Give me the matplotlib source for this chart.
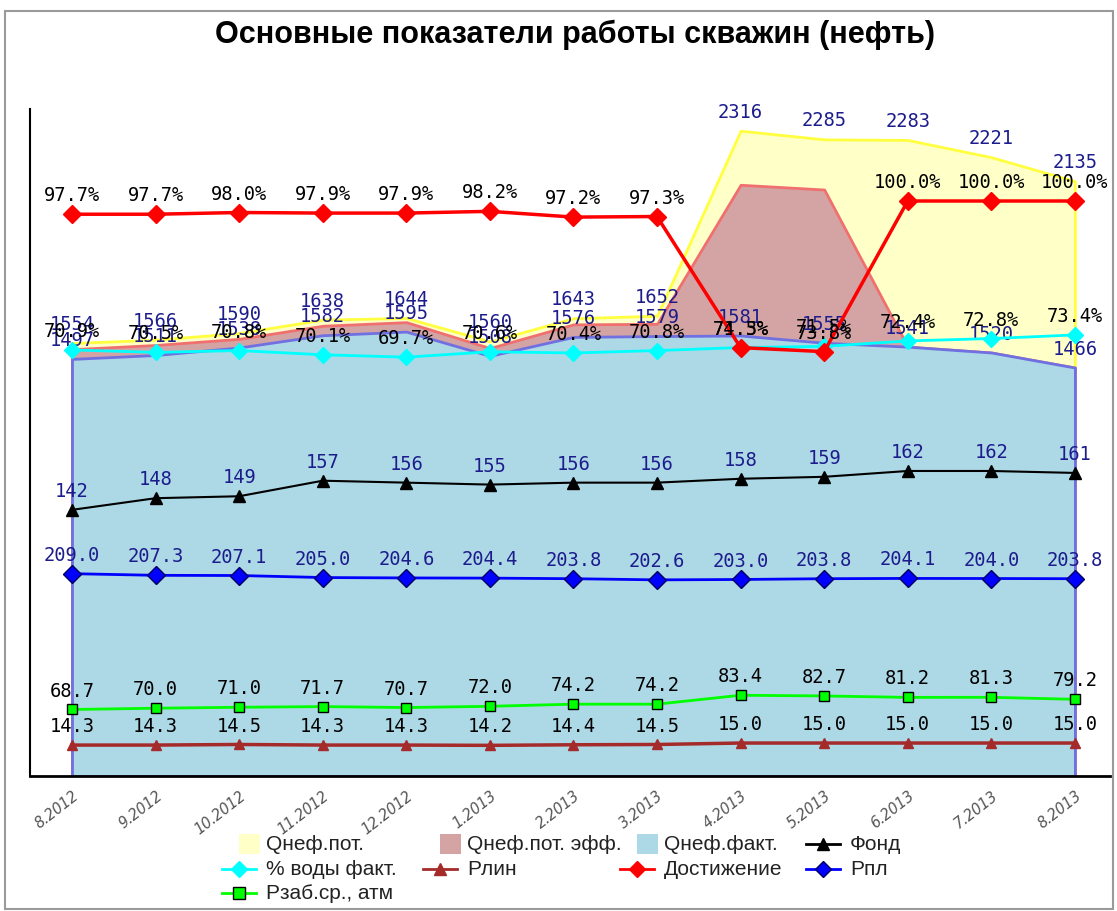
import matplotlib
matplotlib.use("Agg")
import matplotlib.pyplot as plt
from matplotlib.lines import Line2D
from matplotlib.patches import Rectangle

months = ["8.2012", "9.2012", "10.2012", "11.2012", "12.2012", "1.2013", "2.2013",
          "3.2013", "4.2013", "5.2013", "6.2013", "7.2013", "8.2013"]

# дебиты нефти
q_pot = [1554, 1566, 1590, 1638, 1644, 1560, 1643, 1652, 2316, 2285, 2283, 2221, 2135]
q_eff = [1532, 1547, 1569, 1616, 1629, 1536, 1621, 1623, 2122, 2105, 1541, 1520, 1466]
q_fact = [1497, 1511, 1538, 1582, 1595, 1508, 1576, 1579, 1581, 1555, 1541, 1520, 1466]

water = [70.9, 70.5, 70.8, 70.1, 69.7, 70.6, 70.4, 70.8, 71.3, 71.5, 72.4, 72.8, 73.4]
achieve = [97.7, 97.7, 98.0, 97.9, 97.9, 98.2, 97.2, 97.3, 74.5, 73.8, 100.0, 100.0, 100.0]
fond = [142, 148, 149, 157, 156, 155, 156, 156, 158, 159, 162, 162, 161]
p_pl = [209.0, 207.3, 207.1, 205.0, 204.6, 204.4, 203.8, 202.6, 203.0, 203.8, 204.1, 204.0, 203.8]
p_zab = [68.7, 70.0, 71.0, 71.7, 70.7, 72.0, 74.2, 74.2, 83.4, 82.7, 81.2, 81.3, 79.2]
p_lin = [14.3, 14.3, 14.5, 14.3, 14.3, 14.2, 14.4, 14.5, 15.0, 15.0, 15.0, 15.0, 15.0]

W, H = 1117, 912
NAVY = "#1c1c8c"
MONO = "DejaVu Sans Mono"

fig = plt.figure(figsize=(W / 100, H / 100), dpi=100)
fig.patch.set_facecolor("white")
fig.add_artist(Rectangle((5 / W, 1 - 910 / H), 1108 / W, 898 / H, transform=fig.transFigure,
                         fill=False, edgecolor="#9a9a9a", lw=1.5))

ax = fig.add_axes([30 / W, 1 - 777 / H, 1080 / W, 667 / H])
x = list(range(len(months)))
ax.set_xlim(-0.5025, 12.42)
ax.set_ylim(0, 2394)

ax.fill_between(x, 0, q_pot, facecolor="#ffffc8", edgecolor="#ffff40", lw=2)
ax.fill_between(x, 0, q_eff, facecolor="#d4a4a4", edgecolor="#f07070", lw=2)
ax.fill_between(x, 0, q_fact, facecolor="#add8e6", edgecolor="#7070e0", lw=2)


def label(axis, vals, fmt, color, dy=14):
    for i, v in zip(x, vals):
        axis.annotate(fmt.format(v), (i, v), xytext=(0, dy), textcoords="offset points",
                      ha="center", va="center", fontsize=13.5, family=MONO, color=color)


label(ax, q_pot, "{:d}", NAVY)
label(ax, q_fact, "{:d}", NAVY)

for s in ("top", "right"):
    ax.spines[s].set_visible(False)
ax.spines["left"].set_linewidth(1.5)
ax.spines["bottom"].set_linewidth(2)
ax.set_yticks([])
ax.set_xticks(x)
ax.set_xticklabels(months, rotation=38, ha="right", rotation_mode="anchor",
                   fontsize=10.5, color="#555555", fontstyle="italic")
ax.tick_params(axis="x", length=0, pad=8)


def overlay(lo, hi):
    t = ax.twinx()
    t.set_ylim(lo, hi)
    t.axis("off")
    return t


ax_w = overlay(0, 111)
ax_w.plot(x, water, color="#00ffff", lw=2, marker="D", ms=8, mec="#00ffff")
label(ax_w, water, "{:.1f}%", "black")

ax_a = overlay(0, 116)
ax_a.plot(x, achieve, color="red", lw=2.5, marker="D", ms=9, mec="red")
label(ax_a, achieve, "{:.1f}%", "black")

ax_f = overlay(5.1, 348.2)
ax_f.plot(x, fond, color="black", lw=1.5, marker="^", ms=9)
label(ax_f, fond, "{:d}", NAVY)

ax_p = overlay(0, 689)
ax_p.plot(x, p_pl, color="#0000ff", lw=2, marker="D", ms=9, mec="#000060", mew=1)
label(ax_p, p_pl, "{:.1f}", NAVY)
ax_p.plot(x, p_zab, color="#00ff00", lw=2, marker="s", ms=7.5, mec="black", mew=1)
label(ax_p, p_zab, "{:.1f}", "black")

ax_l = overlay(3.6, 234.3)
ax_l.plot(x, p_lin, color="#a52a2a", lw=2.5, marker="^", ms=7, mec="#a52a2a")
label(ax_l, p_lin, "{:.1f}", "black")

fig.text(575 / W, 1 - 35 / H, "Основные показатели работы скважин (нефть)", ha="center",
         va="center", fontsize=22, fontweight="bold", family="Liberation Sans")

# легенда
entries = [
    (266, 845, "patch", "#ffffc8", None, "Qнеф.пот."),
    (467, 845, "patch", "#d4a4a4", None, "Qнеф.пот. эфф."),
    (664, 845, "patch", "#add8e6", None, "Qнеф.факт."),
    (850, 845, "line", "black", ("^", "black", "black"), "Фонд"),
    (266, 870, "line", "#00ffff", ("D", "#00ffff", "#00ffff"), "% воды факт."),
    (467, 870, "line", "#a52a2a", ("^", "#a52a2a", "#a52a2a"), "Рлин"),
    (664, 870, "line", "red", ("D", "red", "red"), "Достижение"),
    (850, 870, "line", "#0000ff", ("D", "#0000ff", "#000060"), "Рпл"),
    (266, 894, "line", "#00ff00", ("s", "#00ff00", "black"), "Рзаб.ср., атм"),
]
for tx, ty, kind, color, mk, text in entries:
    yf = 1 - ty / H
    if kind == "patch":
        fig.add_artist(Rectangle(((tx - 27) / W, yf - 10 / H), 21 / W, 20 / H,
                                 transform=fig.transFigure, facecolor=color, edgecolor="none"))
    else:
        fig.add_artist(Line2D([(tx - 44) / W, (tx - 10) / W], [yf, yf],
                              transform=fig.transFigure, color=color, lw=2))
        m, fc, ec = mk
        fig.add_artist(Line2D([(tx - 27) / W], [yf], transform=fig.transFigure, marker=m,
                              ms=8, mfc=fc, mec=ec, mew=1, ls="none"))
    fig.text(tx / W, yf, text, ha="left", va="center", fontsize=15,
             family="Liberation Sans", color="#222222")

fig.savefig("out.png", dpi=100)
